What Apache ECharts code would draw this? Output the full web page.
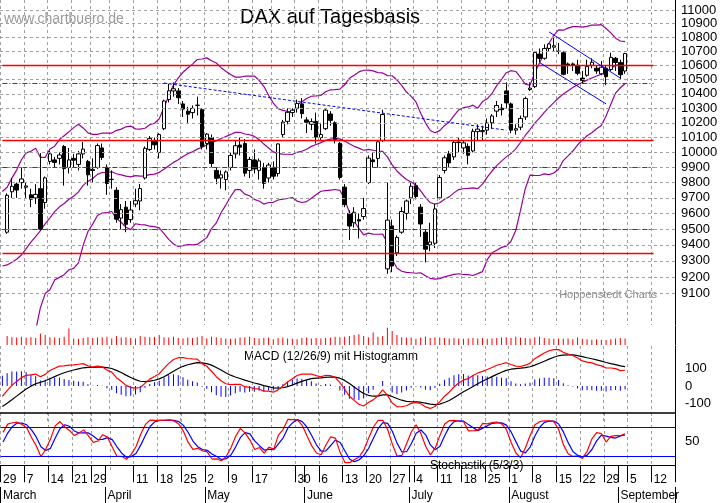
<!DOCTYPE html>
<html>
<head>
<meta charset="utf-8">
<script src="https://cdn.jsdelivr.net/npm/echarts@6/dist/echarts.min.js"></script>
<style>
  html, body { margin: 0; padding: 0; background: #fff; }
  #chart { width: 723px; height: 503px; }
</style>
</head>
<body>
<div id="chart"></div>
<script>
// Schlusskurse Januar/Februar (nur für die Indikatoren, nicht gezeichnet)
var priorCloses = [10283, 10310, 10214, 9979, 9849, 9825, 9985, 9960, 9794, 9545, 9521, 9664, 9391, 9574, 9764, 9736, 9822, 9880, 9639, 9798,
    9757, 9581, 9434, 9393, 9286, 8979, 8879, 9017, 8752, 8967, 9207, 9135, 9377, 9463, 9388, 9573, 9416, 9167, 9331, 9513, 9495];
var priorHighs = { 33: 9520, 34: 9450, 35: 9600, 36: 9580, 37: 9350, 38: 9350, 39: 9600, 40: 9570 };
var priorLows = { 33: 9390, 34: 9330, 35: 9450, 36: 9400, 37: 9100, 38: 9200, 39: 9380, 40: 9440 };

// Tageskerzen ab 1. März: [open, close, low, high]
var candles = [
    // März
    [9480, 9717, 9470, 9730], [9740, 9776, 9700, 9830], [9790, 9751, 9700, 9800], [9800, 9824, 9760, 9900],
    [9770, 9778, 9700, 9800], [9720, 9692, 9640, 9760], [9700, 9723, 9660, 9790], [9760, 9498, 9490, 9995], [9670, 9831, 9630, 9840],
    [9940, 9990, 9920, 10010], [9950, 9933, 9900, 9970], [9960, 9983, 9920, 10000], [10040, 9892, 9780, 10050], [9900, 9950, 9860, 10030],
    [9960, 9948, 9900, 9990], [9920, 9990, 9880, 10010], [9990, 10022, 9960, 10070], [9940, 9851, 9780, 9950],
    [9880, 9887, 9800, 9960], [9900, 10046, 9890, 10060], [10030, 9966, 9950, 10060],
    // April
    [9900, 9794, 9720, 9920],
    [9820, 9822, 9760, 9880], [9750, 9563, 9540, 9770], [9570, 9624, 9500, 9660], [9640, 9530, 9480, 9680], [9560, 9622, 9540, 9680],
    [9660, 9682, 9640, 9760], [9680, 9761, 9620, 9790], [9830, 10027, 9820, 10040], [10020, 10094, 10010, 10110], [10080, 10051, 10020, 10100],
    [10000, 10120, 9960, 10130], [10160, 10350, 10150, 10360], [10360, 10421, 10340, 10470], [10420, 10435, 10380, 10480], [10420, 10373, 10330, 10440],
    [10330, 10294, 10240, 10350], [10280, 10259, 10200, 10310], [10270, 10299, 10230, 10320], [10320, 10321, 10250, 10380], [10290, 10039, 10020, 10300],
    // Mai
    [10060, 10123, 10020, 10130], [10100, 9926, 9900, 10120], [9880, 9828, 9790, 9900], [9830, 9851, 9760, 9880], [9820, 9870, 9750, 9880],
    [9900, 9980, 9880, 10000], [9990, 10045, 9960, 10080], [10050, 10035, 9980, 10100], [10060, 9862, 9840, 10090], [9880, 9953, 9830, 9970],
    [9950, 9890, 9860, 10020], [9880, 9943, 9820, 9960], [9900, 9795, 9760, 9930], [9830, 9916, 9800, 9930],
    [9900, 9842, 9820, 9940], [9860, 10057, 9840, 10060], [10120, 10205, 10100, 10220], [10210, 10272, 10190, 10300], [10270, 10287, 10240, 10300],
    [10300, 10333, 10270, 10360], [10330, 10263, 10230, 10370],
    // Juni
    [10220, 10204, 10130, 10240], [10190, 10208, 10150, 10230], [10210, 10103, 10060, 10270],
    [10100, 10121, 10080, 10200], [10160, 10287, 10150, 10300], [10260, 10217, 10180, 10280], [10200, 10088, 10060, 10210], [10060, 9834, 9820, 10070],
    [9770, 9657, 9640, 9790], [9600, 9519, 9430, 9620], [9540, 9607, 9510, 9640], [9560, 9551, 9440, 9600], [9580, 9631, 9560, 9700],
    [9800, 9962, 9790, 9980], [9950, 9938, 9900, 10000], [9960, 10071, 9900, 10080], [10080, 10257, 10070, 10290], [9250, 9557, 9220, 9800],
    [9520, 9268, 9230, 9560], [9350, 9447, 9330, 9460], [9480, 9612, 9470, 9640], [9600, 9680, 9560, 9690],
    // Juli
    [9700, 9776, 9660, 9800],
    [9780, 9709, 9690, 9800], [9640, 9532, 9450, 9660], [9480, 9373, 9290, 9500], [9400, 9418, 9360, 9540], [9410, 9629, 9380, 9660],
    [9700, 9833, 9690, 9850], [9880, 9964, 9860, 9980], [9990, 9930, 9900, 10010], [9970, 10068, 9950, 10080], [10070, 10066, 10000, 10100],
    [10030, 10064, 9990, 10080], [10040, 9981, 9920, 10060], [10010, 10142, 10000, 10160], [10140, 10157, 10080, 10190], [10140, 10147, 10080, 10180],
    [10150, 10198, 10120, 10230], [10200, 10247, 10160, 10260], [10280, 10319, 10240, 10350], [10300, 10290, 10250, 10330], [10420, 10337, 10300, 10480],
    // August
    [10330, 10150, 10130, 10340], [10150, 10160, 10120, 10190], [10170, 10230, 10150, 10250], [10240, 10367, 10220, 10380], [10430, 10440, 10420, 10480],
    [10450, 10693, 10440, 10700], [10680, 10650, 10620, 10720], [10650, 10720, 10640, 10750], [10720, 10753, 10700, 10760], [10730, 10740, 10700, 10800],
    [10700, 10700, 10680, 10760], [10690, 10537, 10530, 10700], [10610, 10600, 10540, 10620], [10610, 10603, 10560, 10620], [10600, 10544, 10530, 10640],
    [10510, 10494, 10470, 10560], [10530, 10592, 10520, 10640], [10600, 10622, 10580, 10650], [10580, 10560, 10540, 10600], [10540, 10587, 10530, 10630],
    [10580, 10520, 10460, 10600], [10570, 10657, 10560, 10690], [10650, 10620, 10560, 10660],
    // September
    [10620, 10534, 10500, 10640], [10560, 10684, 10540, 10690]
];

var volumes = [
    110, 95, 90, 100, 90, 95, 85, 140, 120, 95, 90, 85, 100, 200, 80, 75, 85, 95, 85, 90, 95,
    100, 80, 110, 90, 95, 85, 80, 110, 100, 95, 100, 120, 95, 90, 100, 85, 80, 90, 85, 95, 110,
    80, 100, 95, 85, 80, 75, 80, 90, 95, 100, 85, 80, 85, 90, 70, 85, 90, 80, 75, 70, 85,
    90, 80, 85, 80, 85, 90, 100, 95, 100, 110, 120, 130, 110, 95, 150, 100, 110, 210, 170, 120, 95, 90,
    90, 75, 90, 100, 85, 95, 90, 85, 80, 85, 80, 75, 80, 85, 80, 85, 75, 80, 85, 90, 95,
    85, 100, 90, 85, 80, 95, 100, 85, 80, 75, 80, 75, 80, 70, 90, 75, 70, 65, 70, 65, 60, 70, 80,
    85, 80
];

var priceTicks = [9100, 9200, 9300, 9400, 9500, 9600, 9700, 9800, 9900, 10000, 10100, 10200, 10300, 10400, 10500, 10600, 10700, 10800, 10900, 11000];
var redSolid = [10600, 10080, 9345];
var redDashed = [10475, 9900, 9500];
var holidays = ['2016-03-25', '2016-03-28', '2016-05-16'];
var weekTicks = ['2016-02-29', '2016-03-07', '2016-03-14', '2016-03-21', '2016-03-29', '2016-04-01', '2016-04-11', '2016-04-18', '2016-04-25',
    '2016-05-02', '2016-05-09', '2016-05-17', '2016-05-30', '2016-06-01', '2016-06-06', '2016-06-13', '2016-06-20', '2016-06-27', '2016-07-01',
    '2016-07-04', '2016-07-11', '2016-07-18', '2016-07-25', '2016-08-01', '2016-08-08', '2016-08-15', '2016-08-22', '2016-08-29', '2016-09-01',
    '2016-09-05', '2016-09-12'];
var dayLabels = ['2016-02-29', '2016-03-07', '2016-03-14', '2016-03-21', '2016-03-29', '2016-04-11', '2016-04-18', '2016-04-25',
    '2016-05-02', '2016-05-09', '2016-05-17', '2016-05-30', '2016-06-06', '2016-06-13', '2016-06-20', '2016-06-27',
    '2016-07-04', '2016-07-11', '2016-07-18', '2016-07-25', '2016-08-01', '2016-08-08', '2016-08-15', '2016-08-22', '2016-08-29',
    '2016-09-05', '2016-09-12'];
var gridDays = ['2016-02-29', '2016-03-07', '2016-03-14', '2016-03-21', '2016-03-29', '2016-04-04', '2016-04-11', '2016-04-18', '2016-04-25',
    '2016-05-02', '2016-05-09', '2016-05-17', '2016-05-23', '2016-05-30', '2016-06-06', '2016-06-13', '2016-06-20', '2016-06-27',
    '2016-07-04', '2016-07-11', '2016-07-18', '2016-07-25', '2016-08-01', '2016-08-08', '2016-08-15', '2016-08-22', '2016-08-29',
    '2016-09-05', '2016-09-12'];
var months = { '2016-02-29': 'March', '2016-04-01': 'April', '2016-05-02': 'May', '2016-06-01': 'June', '2016-07-01': 'July', '2016-08-01': 'August', '2016-09-01': 'September' };

// Handelstage 29.02. - 16.09.2016
var dates = [];
var d = new Date(Date.UTC(2016, 1, 29));
while (d <= new Date(Date.UTC(2016, 8, 16))) {
    var s = d.toISOString().slice(0, 10);
    var wd = d.getUTCDay();
    if (wd > 0 && wd < 6 && holidays.indexOf(s) < 0) dates.push(s);
    d.setUTCDate(d.getUTCDate() + 1);
}

// Indikatoren aus den Kursen
var closesAll = priorCloses.concat(candles.map(function (c) { return c[1]; }));
var highsAll = [], lowsAll = [];
for (var i = 0; i < priorCloses.length; i++) {
    highsAll.push(priorHighs[i] || priorCloses[i]);
    lowsAll.push(priorLows[i] || priorCloses[i]);
}
candles.forEach(function (c) { highsAll.push(c[3]); lowsAll.push(c[2]); });
var off = priorCloses.length - 1; // Index des 29.02.

function ema(arr, n) {
    var k = 2 / (n + 1), out = [arr[0]];
    for (var i = 1; i < arr.length; i++) out.push(arr[i] * k + out[i - 1] * (1 - k));
    return out;
}
function sma(arr, n) {
    return arr.map(function (v, i) {
        if (i < n - 1 || arr[i - n + 1] == null) return null;
        var s = 0;
        for (var j = i - n + 1; j <= i; j++) s += arr[j];
        return s / n;
    });
}
var mid = sma(closesAll, 20), upper = [], lower = [];
closesAll.forEach(function (v, i) {
    if (mid[i] == null) { upper.push(null); lower.push(null); return; }
    var s = 0;
    for (var j = i - 19; j <= i; j++) s += Math.pow(closesAll[j] - mid[i], 2);
    var sd = Math.sqrt(s / 20);
    upper.push(mid[i] + 2 * sd); lower.push(mid[i] - 2 * sd);
});
var e12 = ema(closesAll, 12), e26 = ema(closesAll, 26);
var macd = e12.map(function (v, i) { return v - e26[i]; });
var signal = ema(macd, 9);
var hist = macd.map(function (v, i) { return v - signal[i]; });
var rawK = closesAll.map(function (c, i) {
    if (i < 4) return null;
    var hh = Math.max.apply(null, highsAll.slice(i - 4, i + 1));
    var ll = Math.min.apply(null, lowsAll.slice(i - 4, i + 1));
    return hh === ll ? 50 : (c - ll) / (hh - ll) * 100;
});
var slowK = sma(rawK, 3), slowD = sma(slowK, 3);

function show(arr) { return arr.slice(off).map(function (v) { return v == null ? '-' : +v.toFixed(2); }); }
var candleData = ['-'].concat(candles.map(function (c) { return [c[0], c[1], c[2], c[3]]; }));
var volData = ['-'].concat(volumes);

var grey = '#a0a0a0';
function xAx(idx, extra) {
    var a = {
        type: 'category', gridIndex: idx, data: dates, boundaryGap: true,
        axisLine: { show: false }, axisTick: { show: false }, axisLabel: { show: false },
        splitLine: { show: true, interval: function (i, v) { return gridDays.indexOf(v) >= 0; }, lineStyle: { color: grey, type: [3, 3] } }
    };
    for (var k in extra) a[k] = extra[k];
    return a;
}

var priceMarks = priceTicks.map(function (v) {
    return { yAxis: v, lineStyle: { color: grey, type: [3, 3], width: 1 },
        label: { show: true, position: 'end', distance: 6, formatter: String(v), color: '#000', fontSize: 13, fontFamily: 'Liberation Sans' } };
});
redSolid.forEach(function (v) {
    priceMarks.push([{ coord: [0, v], lineStyle: { color: '#ff0000', type: 'solid', width: 1.3 } }, { coord: [137, v] }]);
});
redDashed.forEach(function (v) {
    priceMarks.push([{ coord: [0, v], lineStyle: { color: '#e00000', type: [5, 2, 1, 2], width: 1 } }, { coord: [137, v] }]);
});
priceMarks.push([{ coord: ['2016-04-19', 10475], lineStyle: { color: '#0000ff', type: [3, 2], width: 1 } }, { coord: ['2016-07-29', 10150] }]);
priceMarks.push([{ coord: ['2016-08-11', 10840], lineStyle: { color: '#0000ff', type: 'solid', width: 1 } }, { coord: ['2016-09-01', 10510] }]);
priceMarks.push([{ coord: ['2016-08-09', 10620], lineStyle: { color: '#0000ff', type: 'solid', width: 1 } }, { coord: ['2016-08-29', 10330] }]);

var purple = '#990099';
function bandLine(arr) {
    return { type: 'line', xAxisIndex: 0, yAxisIndex: 0, data: show(arr), symbol: 'none', silent: true,
        lineStyle: { color: purple, width: 1.2 }, z: 3 };
}

var chart = echarts.init(document.getElementById('chart'));
chart.setOption({
    animation: false,
    backgroundColor: '#fff',
    textStyle: { fontFamily: 'Liberation Sans' },
    grid: [
        { left: -4, right: 48, top: 0, height: 325 },
        { left: -4, right: 48, top: 326, height: 19 },
        { left: -4, right: 48, top: 346, height: 75 },
        { left: -4, right: 48, top: 413, height: 57 }
    ],
    graphic: [
        { type: 'text', left: 4, top: 12, style: { text: 'www.chartbuero.de', fill: '#9a9a9a', font: '14px Liberation Sans' } },
        { type: 'text', left: 240, top: 7, style: { text: 'DAX auf Tagesbasis', fill: '#000', font: '20px Liberation Sans' } },
        { type: 'text', right: 66, top: 289, style: { text: 'Hoppenstedt Charts', fill: '#8a8a8a', font: '11px Liberation Sans' } },
        { type: 'text', left: 244, top: 351, style: { text: 'MACD (12/26/9) mit Histogramm', fill: '#000', font: '12px Liberation Sans' } },
        { type: 'text', left: 430, top: 460, style: { text: 'Stochastik (5/3/3)', fill: '#000', font: '12px Liberation Sans' } }
    ],
    xAxis: [
        xAx(0, {}),
        xAx(1, { splitLine: { show: false } }),
        xAx(2, {}),
        xAx(3, {
            axisLine: { show: true, lineStyle: { color: '#000' } },
            axisTick: { show: true, length: 17, interval: function (i, v) { return weekTicks.indexOf(v) >= 0; }, lineStyle: { color: '#000' } },
            axisLabel: { show: true, interval: function (i, v) { return dayLabels.indexOf(v) >= 0; }, formatter: function (v) { return String(+v.slice(8)); },
                align: 'left', margin: 4, color: '#000', fontSize: 12 }
        }),
        xAx(3, {
            position: 'bottom', offset: 17, splitLine: { show: false },
            axisTick: { show: true, length: 16, interval: function (i, v) { return !!months[v]; }, lineStyle: { color: '#000' } },
            axisLabel: { show: true, interval: function (i, v) { return !!months[v]; }, formatter: function (v) { return months[v]; },
                align: 'left', margin: 3, color: '#000', fontSize: 12 }
        }),
        xAx(3, { position: 'top', splitLine: { show: false }, axisLine: { show: true, lineStyle: { color: '#000', width: 1.5 } } })
    ],
    yAxis: [
        { type: 'log', gridIndex: 0, min: 8909, max: 11074, position: 'right',
          axisLine: { show: true, lineStyle: { color: '#000' } }, axisTick: { show: false }, axisLabel: { show: false }, splitLine: { show: false } },
        { type: 'value', gridIndex: 1, min: 0, max: 230, position: 'right',
          axisLine: { show: true, lineStyle: { color: '#000' } }, axisTick: { show: false }, axisLabel: { show: false }, splitLine: { show: false } },
        { type: 'value', gridIndex: 2, min: -200, max: 228.6, interval: 100, position: 'right',
          axisLine: { show: true, lineStyle: { color: '#000' } }, axisTick: { show: false }, splitLine: { show: false },
          axisLabel: { color: '#000', fontSize: 13, margin: 10, formatter: function (v) { return Math.abs(v) <= 100 ? String(v) : ''; } } },
        { type: 'value', gridIndex: 3, min: -10, max: 110, interval: 60, position: 'right',
          axisLine: { show: true, lineStyle: { color: '#000' } }, axisTick: { show: false }, splitLine: { show: false },
          axisLabel: { color: '#000', fontSize: 13, margin: 10, formatter: function (v) { return v === 50 ? '50' : ''; } } }
    ],
    series: [
        bandLine(upper), bandLine(mid), bandLine(lower),
        { type: 'candlestick', xAxisIndex: 0, yAxisIndex: 0, data: candleData, barWidth: 4, z: 4,
          itemStyle: { color: '#fff', color0: '#000', borderColor: '#000', borderColor0: '#000', borderWidth: 1 },
          markLine: { symbol: 'none', silent: true, animation: false, data: priceMarks } },
        { type: 'bar', xAxisIndex: 1, yAxisIndex: 1, data: volData, barWidth: 1, itemStyle: { color: '#ff0000' } },
        { type: 'bar', xAxisIndex: 2, yAxisIndex: 2, data: show(hist), barWidth: 1, itemStyle: { color: '#0000ff' } },
        { type: 'line', xAxisIndex: 2, yAxisIndex: 2, data: show(signal), symbol: 'none', lineStyle: { color: '#000', width: 1.2 } },
        { type: 'line', xAxisIndex: 2, yAxisIndex: 2, data: show(macd), symbol: 'none', lineStyle: { color: '#ff0000', width: 1.2 } },
        { type: 'line', xAxisIndex: 3, yAxisIndex: 3, data: show(slowD), symbol: 'none', lineStyle: { color: '#0000ff', width: 1.2 },
          markLine: { symbol: 'none', silent: true, label: { show: false }, lineStyle: { color: '#0000ff', type: 'solid', width: 1.2 },
              data: [{ yAxis: 20 }, { yAxis: 80 }] } },
        { type: 'line', xAxisIndex: 3, yAxisIndex: 3, data: show(slowK), symbol: 'none', lineStyle: { color: '#ff0000', width: 1.2 } }
    ]
});
</script>
</body>
</html>
